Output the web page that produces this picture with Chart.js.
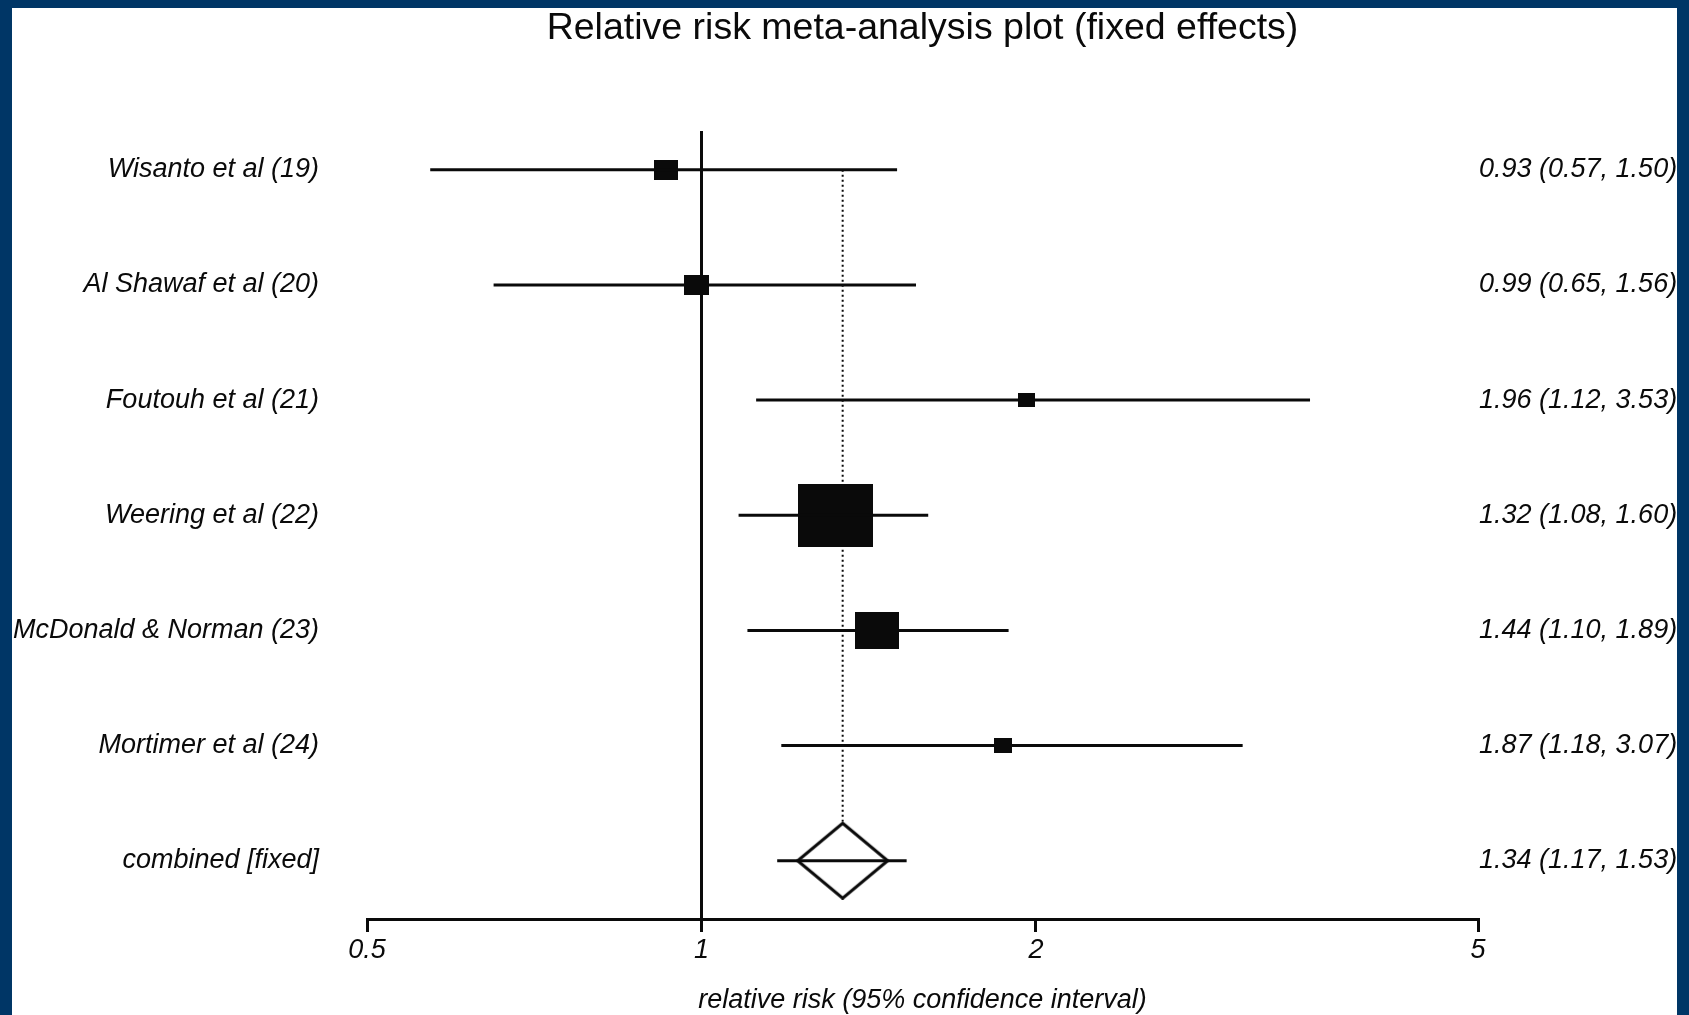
<!doctype html>
<html lang="en">
<head>
<meta charset="utf-8">
<title>Relative risk meta-analysis plot (fixed effects)</title>
<script src="https://cdn.jsdelivr.net/npm/chart.js@4.4.1/dist/chart.umd.min.js"></script>
<style>
html, body {
    margin: 0;
    padding: 0;
    width: 1689px;
    height: 1015px;
    overflow: hidden;
    background-color: #003666;
}
#panel {
    position: absolute;
    left: 12px;
    top: 8px;
    width: 1665px;
    height: 1007px;
    background-color: #ffffff;
}
</style>
</head>
<body>
<div id="panel"><canvas id="forest" width="1665" height="1007"></canvas></div>
<script>
// studies, top to bottom; the last row is the pooled estimate
const studies = ['Wisanto et al (19)', 'Al Shawaf et al (20)', 'Foutouh et al (21)', 'Weering et al (22)',
                 'McDonald & Norman (23)', 'Mortimer et al (24)', 'combined [fixed]'];
const rr    = [0.93, 0.99, 1.96, 1.32, 1.44, 1.87, 1.34];
const lower = [0.57, 0.65, 1.12, 1.08, 1.10, 1.18, 1.17];
const upper = [1.50, 1.56, 3.53, 1.60, 1.89, 3.07, 1.53];
// relative study weights (%), shown as box area
const weights = [6.1, 6.4, 3.2, 59.9, 20.9, 3.6];
const xTicks = [0.5, 1, 2, 5];

const FONT = "'Liberation Sans', Arial, sans-serif";
const ink = '#0a0a0a';
const rows = studies.map((_, i) => i);
const pooled = studies.length - 1;
const estimates = rows.map(i => rr[i].toFixed(2) + ' (' + lower[i].toFixed(2) + ', ' + upper[i].toFixed(2) + ')');

function boxImage(w, h) {
    const c = document.createElement('canvas');
    c.width = w; c.height = h;
    const g = c.getContext('2d');
    g.fillStyle = ink;
    g.fillRect(0, 0, w, h);
    return c;
}

function diamondImage(w, h) {
    const c = document.createElement('canvas');
    c.width = w; c.height = h;
    const g = c.getContext('2d');
    g.beginPath();
    g.moveTo(w / 2, 1.5);
    g.lineTo(w - 1.5, h / 2);
    g.lineTo(w / 2, h - 1.5);
    g.lineTo(1.5, h / 2);
    g.closePath();
    g.fillStyle = '#fff';
    g.fill();
    g.lineWidth = 3;
    g.strokeStyle = ink;
    g.stroke();
    return c;
}

const boxes = weights.map(w => {
    const h = Math.sqrt(w) * 8.1;
    return boxImage(Math.round(h * 1.2), Math.round(h));
});

const ciLines = rows.map(i => ({
    showLine: true,
    data: [{x: lower[i], y: i}, {x: upper[i], y: i}],
    borderColor: ink,
    borderWidth: 3,
    pointRadius: 0,
    order: 0
}));

const labelFont = {family: FONT, size: 27, style: 'italic'};

const plotTitle = {
    id: 'plotTitle',
    afterDraw(chart) {
        const {ctx, chartArea} = chart;
        ctx.save();
        ctx.font = '37.5px ' + FONT;
        ctx.fillStyle = ink;
        ctx.textAlign = 'center';
        ctx.textBaseline = 'alphabetic';
        ctx.fillText('Relative risk meta-analysis plot (fixed effects)', (chartArea.left + chartArea.right) / 2, 31);
        ctx.restore();
    }
};

new Chart(document.getElementById('forest'), {
    type: 'scatter',
    data: {
        datasets: ciLines.concat([
            {
                data: rows.slice(0, pooled).map(i => ({x: rr[i], y: i})),
                pointStyle: ctx => boxes[ctx.dataIndex],
                pointRadius: 4,
                order: 1
            },
            {
                data: [{x: rr[pooled], y: pooled}],
                pointStyle: diamondImage(93, 78),
                pointRadius: 4,
                order: 1
            },
            {
                // pooled estimate reference line
                showLine: true,
                data: [{x: rr[pooled], y: 0}, {x: rr[pooled], y: pooled}],
                borderColor: ink,
                borderWidth: 2,
                borderDash: [2, 3],
                pointRadius: 0,
                order: 2
            }
        ])
    },
    options: {
        responsive: false,
        animation: false,
        layout: {padding: {top: 123, left: 0, right: 0, bottom: 0}},
        plugins: {
            legend: {display: false},
            tooltip: {enabled: false}
        },
        scales: {
            x: {
                type: 'logarithmic',
                min: 0.5,
                max: 5,
                afterBuildTicks: s => { s.ticks = xTicks.map(v => ({value: v})); },
                afterFit: s => { s.height = 96; },
                ticks: {
                    autoSkip: false,
                    maxRotation: 0,
                    padding: 2,
                    color: ink,
                    font: labelFont,
                    callback: v => String(v)
                },
                grid: {
                    drawOnChartArea: true,
                    color: c => (c.tick && c.tick.value === 1) ? ink : 'rgba(0,0,0,0)',
                    tickColor: ink,
                    tickLength: 13,
                    lineWidth: 3
                },
                border: {display: true, color: ink, width: 3},
                title: {
                    display: true,
                    text: 'relative risk (95% confidence interval)',
                    color: ink,
                    font: {family: FONT, size: 27, style: 'italic', lineHeight: 1},
                    padding: {top: 0, bottom: 1}
                }
            },
            y: {
                type: 'linear',
                reverse: true,
                min: -0.337,
                max: 6.506,
                afterBuildTicks: s => { s.ticks = rows.map(v => ({value: v})); },
                afterFit: s => { s.width = 355; },
                ticks: {
                    autoSkip: false,
                    padding: 48,
                    color: ink,
                    font: labelFont,
                    callback: (v, i) => studies[i]
                },
                grid: {display: false, drawTicks: false},
                border: {display: false}
            },
            y2: {
                type: 'linear',
                position: 'right',
                reverse: true,
                min: -0.337,
                max: 6.506,
                afterBuildTicks: s => { s.ticks = rows.map(v => ({value: v})); },
                afterFit: s => { s.width = 199; },
                ticks: {
                    autoSkip: false,
                    padding: 1,
                    color: ink,
                    font: labelFont,
                    callback: (v, i) => estimates[i]
                },
                grid: {display: false, drawTicks: false},
                border: {display: false}
            }
        }
    },
    plugins: [plotTitle]
});
</script>
</body>
</html>
